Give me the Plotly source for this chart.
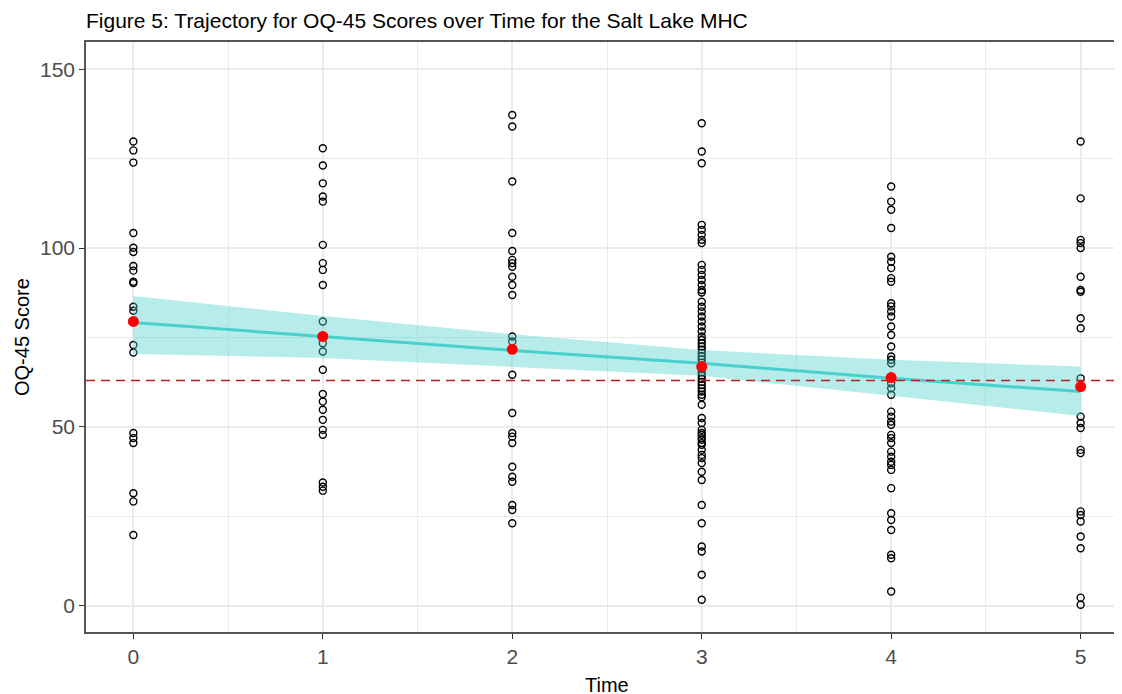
import plotly.graph_objects as go

# ---- data ----
times = [0, 1, 2, 3, 4, 5]

scores_t0 = [129.8, 127.3, 123.9, 104.2, 100.1, 98.9, 95.0, 93.7, 90.6, 90.2,
             83.6, 82.5, 72.9, 70.8, 48.3, 46.9, 45.5, 31.5, 29.2, 19.8]
scores_t1 = [127.9, 123.1, 118.1, 114.4, 113.0, 100.9, 95.8, 93.9, 89.7, 79.5,
             73.4, 71.1, 66.0, 59.2, 57.1, 54.8, 52.0, 49.2, 47.8, 34.5, 33.3, 32.2]
scores_t2 = [137.2, 134.0, 118.6, 104.2, 99.2, 96.7, 95.8, 94.8, 92.0, 89.7,
             86.9, 75.3, 73.9, 64.6, 53.9, 48.3, 47.3, 45.5, 38.9, 36.1, 34.7,
             28.2, 26.8, 23.1]
scores_t3 = [134.9, 127.0, 123.7, 106.5, 105.1, 103.7, 102.3, 101.4, 95.3, 93.9,
             92.5, 91.1, 89.7, 88.3, 87.6, 85.0, 83.6, 82.3, 80.9, 79.5, 78.1,
             76.7, 75.3, 74.3, 73.4, 72.5, 71.6, 70.7, 69.8, 68.9, 68.0, 67.1,
             66.2, 65.3, 64.4, 63.5, 62.6, 61.7, 60.8, 59.9, 59.0, 58.3, 56.2,
             52.5, 51.1, 49.2, 48.3, 47.8, 46.9, 46.4, 45.5, 45.0, 43.6, 42.2,
             41.3, 39.9, 37.5, 35.2, 28.2, 23.1, 16.6, 15.2, 8.7, 1.7]
scores_t4 = [117.2, 113.0, 110.7, 105.6, 97.6, 96.2, 94.4, 91.6, 90.6, 84.6,
             83.7, 82.3, 80.9, 78.1, 75.7, 72.5, 69.7, 68.8, 67.8, 62.2, 60.8,
             59.0, 54.3, 52.9, 51.5, 50.6, 47.8, 46.9, 45.5, 43.1, 41.7, 40.3,
             39.4, 38.0, 32.9, 25.9, 24.0, 21.2, 14.3, 13.3, 4.0]
scores_t5 = [129.8, 113.9, 102.3, 101.4, 100.0, 92.0, 88.3, 87.8, 80.4, 77.6,
             63.6, 52.9, 51.1, 49.7, 43.6, 42.7, 26.4, 25.4, 23.6, 19.4, 16.1,
             2.3, 0.3]

mean_scores = [79.5, 75.3, 71.7, 66.9, 63.8, 61.3]

fit_line = [79.2, 75.2, 71.4, 67.8, 63.6, 59.9]
fit_upper = [86.6, 81.0, 75.9, 71.5, 68.8, 66.9]
fit_lower = [70.4, 69.3, 66.8, 64.3, 58.7, 53.1]

reference_score = 63.0

x_range = [-0.25, 5.25]
y_range = [-7.3, 157.6]

# ---- figure ----
fig = go.Figure()

all_scores = [scores_t0, scores_t1, scores_t2, scores_t3, scores_t4, scores_t5]
px_x, px_y = [], []
for t, arr in zip(times, all_scores):
    px_x += [t] * len(arr)
    px_y += arr

fig.add_trace(go.Scatter(
    x=px_x, y=px_y, mode="markers",
    marker=dict(symbol="circle-open", size=7, color="black", line=dict(width=1.4, color="black")),
    showlegend=False, hoverinfo="skip"))

fig.add_trace(go.Scatter(
    x=times, y=fit_lower, mode="lines", line=dict(width=0, color="rgba(0,0,0,0)"),
    showlegend=False, hoverinfo="skip"))
fig.add_trace(go.Scatter(
    x=times, y=fit_upper, mode="lines", line=dict(width=0, color="rgba(0,0,0,0)"),
    fill="tonexty", fillcolor="rgba(72,209,204,0.4)",
    showlegend=False, hoverinfo="skip"))
fig.add_trace(go.Scatter(
    x=times, y=fit_line, mode="lines", line=dict(width=3, color="#48D1CC"),
    showlegend=False, hoverinfo="skip"))

fig.add_trace(go.Scatter(
    x=x_range, y=[reference_score, reference_score], mode="lines",
    line=dict(width=1.6, color="#B22222", dash="9px,6px"),
    showlegend=False, hoverinfo="skip"))

fig.add_trace(go.Scatter(
    x=times, y=mean_scores, mode="markers",
    marker=dict(size=11, color="red"),
    showlegend=False, hoverinfo="skip"))

font_family = "Liberation Sans, Arial, sans-serif"

fig.update_layout(
    width=1122, height=694,
    margin=dict(l=78, r=2, t=34, b=70),
    paper_bgcolor="white", plot_bgcolor="white",
    font=dict(family=font_family, size=19, color="black"),
    title=dict(text="Figure 5: Trajectory for OQ-45 Scores over Time for the Salt Lake MHC",
               x=78 / 1122, xanchor="left", y=1 - 13 / 694, yanchor="middle",
               font=dict(size=21, color="black", family=font_family)),
    xaxis=dict(range=x_range, tickvals=times, ticktext=[str(t) for t in times],
               showgrid=True, gridcolor="#EBEBEB", gridwidth=1.5,
               minor=dict(tickvals=[0.5, 1.5, 2.5, 3.5, 4.5], showgrid=True,
                          gridcolor="#EBEBEB", gridwidth=0.8),
               zeroline=False, showline=True, linecolor="#555555", linewidth=1.6,
               mirror=True, ticks="outside", ticklen=5, tickcolor="#333333",
               tickwidth=1.2, tickfont=dict(size=21, color="#4D4D4D")),
    yaxis=dict(range=y_range, tickvals=[0, 50, 100, 150],
               showgrid=True, gridcolor="#EBEBEB", gridwidth=1.5,
               minor=dict(tickvals=[25, 75, 125], showgrid=True,
                          gridcolor="#EBEBEB", gridwidth=0.8),
               zeroline=False, showline=True, linecolor="#555555", linewidth=1.6,
               mirror=False, ticks="outside", ticklen=5, tickcolor="#333333",
               tickwidth=1.2, tickfont=dict(size=21, color="#4D4D4D")),
    annotations=[
        dict(text="Time", xref="paper", yref="paper", x=0.5, y=-0.0898,
             xanchor="center", yanchor="middle", showarrow=False,
             font=dict(size=20, color="black")),
        dict(text="OQ-45 Score", xref="paper", yref="paper", x=-0.0614, y=0.5,
             xanchor="center", yanchor="middle", textangle=-90, showarrow=False,
             font=dict(size=20, color="black")),
    ],
)

fig.write_html("out.html")
